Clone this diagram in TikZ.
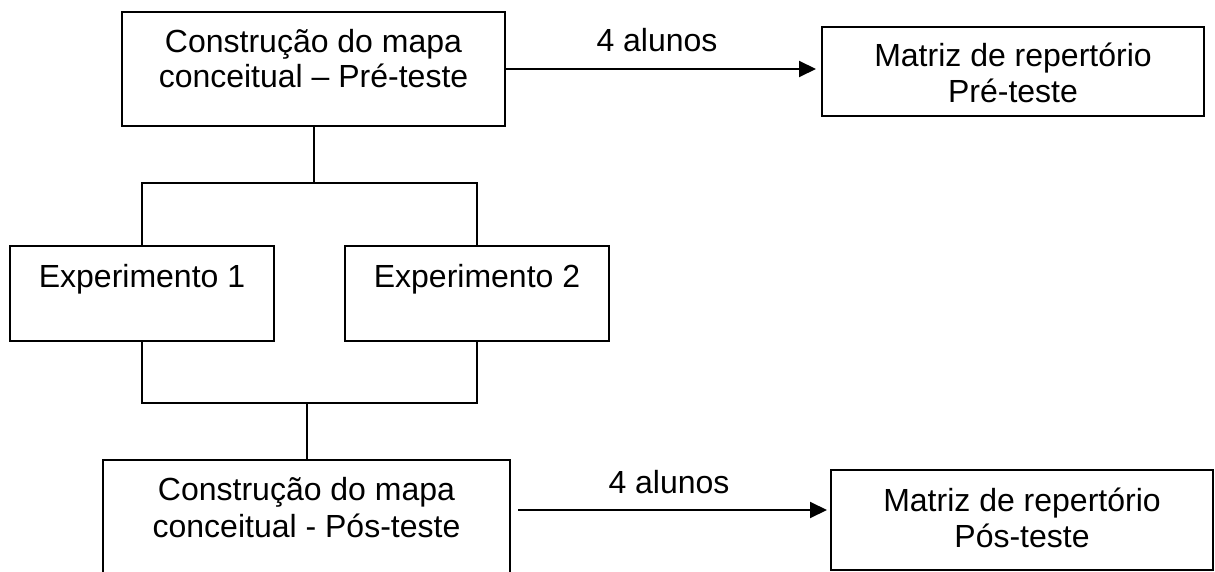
\documentclass[tikz,border=0pt]{standalone}
\usepackage{fontspec}
\setmainfont{Liberation Sans}
\usetikzlibrary{arrows.meta}
\begin{document}
\begin{tikzpicture}[x=1pt,y=-1pt,
  box/.style={draw, line width=2pt, inner sep=0pt, outer sep=0pt},
  txt/.style={anchor=base, inner sep=0pt, font=\fontsize{32}{36}\selectfont},
  conn/.style={line width=2pt},
  arr/.style={line width=2pt, -{Triangle[length=17pt,width=16pt]}}]
\fill[white] (0,0) rectangle (1215,572);
\clip (0,0) rectangle (1215,572);
% boxes
\node[box, minimum width=383pt, minimum height=114pt] (A) at (313.5,69) {};
\node[box, minimum width=382pt, minimum height=89pt] (B) at (1013,71.5) {};
\node[box, minimum width=264pt, minimum height=95pt] (X1) at (142,293.5) {};
\node[box, minimum width=264pt, minimum height=95pt] (X2) at (477,293.5) {};
\node[box, minimum width=407pt, minimum height=140pt] (E) at (306.5,530) {};
\node[box, minimum width=382pt, minimum height=100pt] (F) at (1022,520) {};
% texts
\node[txt] (A1) at (313.5,53) {Construção do mapa};
\node[txt] (A2) at (313.5,88) {conceitual – Pré-teste};
\node[txt] (B1) at (1013,67) {Matriz de repertório};
\node[txt] (B2) at (1013,103) {Pré-teste};
\node[txt] (X1t) at (142,287) {Experimento 1};
\node[txt] (X2t) at (477,287) {Experimento 2};
\node[txt] (E1) at (306.5,500) {Construção do mapa};
\node[txt] (E2) at (306.5,537) {conceitual - Pós-teste};
\node[txt] (F1) at (1022,511) {Matriz de repertório};
\node[txt] (F2) at (1022,547) {Pós-teste};
\node[txt] (L1) at (657,52) {4 alunos};
\node[txt] (L2) at (669,493) {4 alunos};
% connectors
\draw[arr, shorten >=6pt] (A.east) -- (A.east -| B.west);
\draw[arr, shorten <=8pt, shorten >=4pt] ([yshift=20pt]E.east) -- ([yshift=20pt]E.east -| F.west);
\draw[conn] (A.south) -- ++(0,57);
\draw[conn] (X1.north) -- ++(0,-63) -| (X2.north);
\draw[conn] (X1.south) -- ++(0,62) -| (X2.south);
\draw[conn] (E.north) -- ++(0,-57);
\end{tikzpicture}
\end{document}
